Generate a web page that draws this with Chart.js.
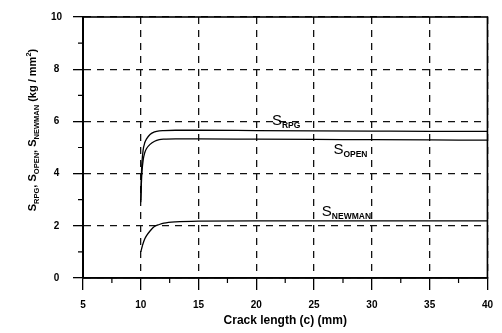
<!DOCTYPE html>
<html>
<head>
<meta charset="utf-8">
<script src="https://cdn.jsdelivr.net/npm/chart.js@4.4.1/dist/chart.umd.min.js"></script>
<style>
  html, body { margin: 0; padding: 0; background: #fff; }
  #wrap { width: 502px; height: 333px; }
</style>
</head>
<body>
<div id="wrap"><canvas id="grafico"></canvas></div>
<script>
// ---- dados ----
const crackLength = [10, 10.05, 10.1, 10.2, 10.35, 10.5, 10.8, 11.2, 11.6, 12, 13, 15, 20, 25, 30, 35, 40];
const sRpg     = [3.0, 3.9, 4.4, 4.89, 5.19, 5.33, 5.5, 5.6, 5.64, 5.65, 5.66, 5.66, 5.65, 5.64, 5.63, 5.62, 5.62];
const sOpen    = [2.9, 3.6, 4.05, 4.5, 4.81, 4.96, 5.12, 5.24, 5.3, 5.32, 5.33, 5.33, 5.32, 5.31, 5.3, 5.29, 5.28];
const sNewman  = [1.0, 1.08, 1.17, 1.32, 1.5, 1.62, 1.8, 1.98, 2.05, 2.1, 2.15, 2.18, 2.19, 2.19, 2.19, 2.19, 2.19];

const xMinor = [7.5, 12.5, 17.5, 22.5, 27.5, 32.5, 37.5];
const yMinor = [1, 3, 5, 7, 9];

// rótulos das curvas: [subscrito, x, y] em unidades do gráfico
const curveLabels = [
    ['RPG', 21.35, 5.86],
    ['OPEN', 26.67, 4.74],
    ['NEWMAN', 25.67, 2.37]
];

const FONTE = '"Liberation Sans", Arial, sans-serif';

function pontos(ys) {
    return crackLength.map((c, i) => ({ x: c, y: ys[i] }));
}

// desenha texto com partes de tamanhos diferentes (subscrito/sobrescrito)
function textoRico(ctx, partes, x, y) {
    let cx = x;
    partes.forEach(p => {
        ctx.font = p.font;
        ctx.fillText(p.t, cx, y + (p.dy || 0));
        cx += ctx.measureText(p.t).width;
    });
    return cx - x;
}

function larguraRica(ctx, partes) {
    let w = 0;
    partes.forEach(p => {
        ctx.font = p.font;
        w += ctx.measureText(p.t).width;
    });
    return w;
}

const extras = {
    id: 'extras',
    afterDraw(chart) {
        const { ctx, chartArea: a, scales: { x, y } } = chart;
        ctx.save();
        ctx.strokeStyle = '#000';
        ctx.fillStyle = '#000';

        // moldura
        ctx.lineWidth = 1.6;
        ctx.strokeRect(a.left, a.top, a.right - a.left, a.bottom - a.top);

        // ticks menores
        ctx.lineWidth = 1.2;
        ctx.beginPath();
        xMinor.forEach(v => {
            const px = x.getPixelForValue(v);
            ctx.moveTo(px, a.bottom);
            ctx.lineTo(px, a.bottom + 5);
        });
        yMinor.forEach(v => {
            const py = y.getPixelForValue(v);
            ctx.moveTo(a.left - 5, py);
            ctx.lineTo(a.left, py);
        });
        ctx.stroke();

        // rótulos das curvas
        ctx.textBaseline = 'alphabetic';
        ctx.textAlign = 'left';
        curveLabels.forEach(([sub, vx, vy]) => {
            const px = x.getPixelForValue(vx);
            const py = y.getPixelForValue(vy);
            textoRico(ctx, [
                { t: 'S', font: '15px ' + FONTE },
                { t: sub, font: 'bold 8.5px ' + FONTE, dy: 3 }
            ], px, py);
        });

        // título do eixo y
        const big = 'bold 11px ' + FONTE;
        const small = 'bold 7.5px ' + FONTE;
        const partes = [
            { t: 'S', font: big }, { t: 'RPG', font: small, dy: 3 },
            { t: ', S', font: big }, { t: 'OPEN', font: small, dy: 3 },
            { t: ', S', font: big }, { t: 'NEWMAN', font: small, dy: 3 },
            { t: ' (kg / mm', font: big }, { t: '2', font: small, dy: -5 },
            { t: ')', font: big }
        ];
        const w = larguraRica(ctx, partes);
        ctx.translate(36, 130);
        ctx.rotate(-Math.PI / 2);
        textoRico(ctx, partes, -w / 2, 0);
        ctx.restore();
    }
};

const linha = (label, ys) => ({
    label: label,
    data: pontos(ys),
    borderColor: '#000',
    borderWidth: 1.3,
    pointRadius: 0,
    cubicInterpolationMode: 'monotone',
    fill: false
});

new Chart(document.getElementById('grafico'), {
    type: 'line',
    data: {
        datasets: [
            linha('S RPG', sRpg),
            linha('S OPEN', sOpen),
            linha('S NEWMAN', sNewman)
        ]
    },
    options: {
        responsive: true,
        maintainAspectRatio: false,
        animation: false,
        layout: { padding: { top: 12, right: 12, left: 0, bottom: 0 } },
        plugins: {
            legend: { display: false },
            tooltip: { enabled: false }
        },
        scales: {
            x: {
                type: 'linear',
                min: 5,
                max: 40,
                afterFit: s => { s.height = 55; },
                ticks: {
                    stepSize: 5,
                    padding: 9,
                    color: '#000',
                    font: { family: FONTE, size: 10, weight: 'bold' },
                    maxRotation: 0
                },
                grid: {
                    color: '#111',
                    lineWidth: 1.3,
                    tickLength: 12,
                    tickColor: '#000'
                },
                border: { color: '#000', width: 1.6, dash: [7, 6] },
                title: {
                    display: true,
                    text: 'Crack length (c) (mm)',
                    color: '#000',
                    font: { family: FONTE, size: 12, weight: 'bold' },
                    padding: { top: 0, bottom: 5 }
                }
            },
            y: {
                min: 0,
                max: 10,
                afterFit: s => { s.width = 83; },
                ticks: {
                    stepSize: 2,
                    padding: 11,
                    crossAlign: 'center',
                    color: '#000',
                    font: { family: FONTE, size: 10, weight: 'bold' }
                },
                grid: {
                    color: '#111',
                    lineWidth: 1.3,
                    tickLength: 10,
                    tickColor: '#000'
                },
                border: { color: '#000', width: 2, dash: [7, 6] }
            }
        }
    },
    plugins: [extras]
});
</script>
</body>
</html>
